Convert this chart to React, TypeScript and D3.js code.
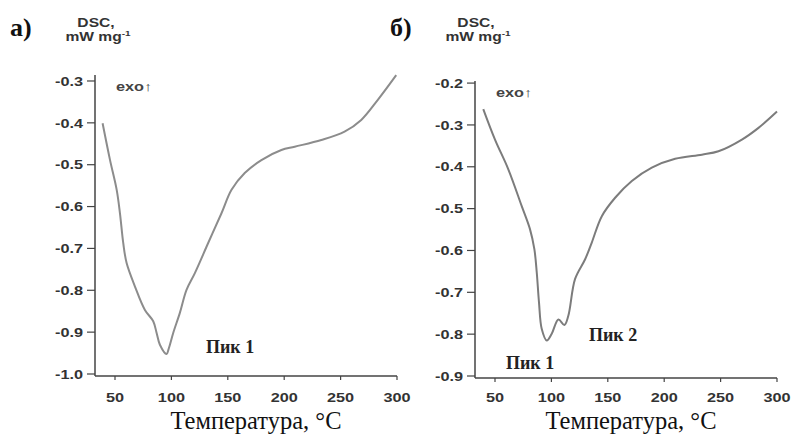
import { useEffect, useRef } from 'react'
import * as d3 from 'd3'

// panel a)
const tempA = [39, 45.6, 51.5, 54.4, 57.3, 60.3, 67.7, 76.5, 83.9, 86.9, 89.8, 95.7, 97.8, 101.6, 107.5, 113.4, 120.8, 132.6, 144.4, 153.3, 165, 179.8, 197.5, 209.3, 232.9, 253.5, 268.3, 283, 299.3]
const dscA = [-0.401, -0.489, -0.56, -0.616, -0.687, -0.735, -0.791, -0.847, -0.874, -0.902, -0.93, -0.952, -0.938, -0.902, -0.854, -0.799, -0.759, -0.687, -0.616, -0.56, -0.52, -0.489, -0.465, -0.457, -0.441, -0.421, -0.393, -0.345, -0.286]
const yTicksA = [-1.0, -0.9, -0.8, -0.7, -0.6, -0.5, -0.4, -0.3]

// panel б)
const tempB = [39.6, 50, 61.8, 73.7, 81, 84.9, 87, 89, 91.4, 95.9, 100.3, 106.2, 111.5, 115, 121, 129.9, 135.8, 144.7, 156.5, 171.3, 189, 209.7, 233.4, 248.1, 268.9, 283.6, 300]
const dscB = [-0.262, -0.335, -0.406, -0.494, -0.549, -0.597, -0.652, -0.724, -0.787, -0.815, -0.799, -0.765, -0.778, -0.756, -0.668, -0.621, -0.581, -0.518, -0.474, -0.434, -0.402, -0.381, -0.371, -0.363, -0.335, -0.307, -0.268]
const yTicksB = [-0.9, -0.8, -0.7, -0.6, -0.5, -0.4, -0.3, -0.2]

const xTicks = [50, 100, 150, 200, 250, 300]

const panels = [
  { letter: 'а)', temps: tempA, dsc: dscA, yTicks: yTicksA, left: 95, top: 75, bottom: 376, right: 397, yMin: -1.0, yMax: -0.2857, color: '#8c8c8c',
    titleX: 256, labels: [{ text: 'Пик 1', x: 206, y: 353 }] },
  { letter: 'б)', temps: tempB, dsc: dscB, yTicks: yTicksB, left: 475, top: 81, bottom: 378, right: 777, yMin: -0.9, yMax: -0.195, color: '#7c7c7c',
    titleX: 631, labels: [{ text: 'Пик 2', x: 589, y: 341 }, { text: 'Пик 1', x: 506, y: 369 }] },
]

const SX = 1.25 // the sans labels in the source are drawn a bit wide

export default function App() {
  const svgRef = useRef<SVGSVGElement>(null)

  useEffect(() => {
    const svg = d3.select(svgRef.current)
    svg.selectAll('*').remove()

    const sans = "'Liberation Sans', Arial, sans-serif"
    const serif = "'Liberation Serif', 'Times New Roman', serif"
    const wide = (px: number, py: number) => `translate(${px},${py}) scale(${SX},1)`

    panels.forEach((p) => {
      // x=50 sits 20px right of the y axis, 300 at right end
      const x = d3.scaleLinear().domain([50, 300]).range([p.left + 20, p.right])
      const y = d3.scaleLinear().domain([p.yMin, p.yMax]).range([p.bottom - 2, p.top])
      const g = svg.append('g')

      // y axis
      g.append('line').attr('x1', p.left).attr('x2', p.left).attr('y1', p.top).attr('y2', p.bottom)
        .attr('stroke', '#444').attr('stroke-width', 1.5)
      g.selectAll('.yt').data(p.yTicks).join('line')
        .attr('x1', p.left - 8).attr('x2', p.left).attr('y1', (d) => y(d)).attr('y2', (d) => y(d))
        .attr('stroke', '#444').attr('stroke-width', 1.2)
      g.selectAll('.yl').data(p.yTicks).join('text')
        .attr('transform', (d) => wide(p.left - 12, y(d))).attr('dy', '0.36em')
        .attr('text-anchor', 'end').attr('font-family', sans).attr('font-weight', 'bold')
        .attr('font-size', 13).attr('fill', '#333').text((d) => d.toFixed(1))

      // x axis
      g.append('line').attr('x1', p.left).attr('x2', p.right).attr('y1', p.bottom).attr('y2', p.bottom)
        .attr('stroke', '#444').attr('stroke-width', 1.5)
      g.selectAll('.xt').data(xTicks).join('line')
        .attr('x1', (d) => x(d)).attr('x2', (d) => x(d)).attr('y1', p.bottom).attr('y2', p.bottom + 4)
        .attr('stroke', '#444').attr('stroke-width', 1.2)
      g.selectAll('.xl').data(xTicks).join('text')
        .attr('transform', (d) => wide(x(d), 402))
        .attr('text-anchor', 'middle').attr('font-family', sans).attr('font-weight', 'bold')
        .attr('font-size', 13).attr('fill', '#333').text((d) => d)

      g.append('text').attr('x', p.titleX).attr('y', 429)
        .attr('text-anchor', 'middle').attr('font-family', serif).attr('font-size', 24.5)
        .attr('fill', '#111').text('Температура, °C')

      // curve
      const pts = p.temps.map((t, i) => [t, p.dsc[i]] as [number, number])
      const line = d3.line<[number, number]>().x((d) => x(d[0])).y((d) => y(d[1])).curve(d3.curveCatmullRom.alpha(0.5))
      g.append('path').attr('d', line(pts)).attr('fill', 'none')
        .attr('stroke', p.color).attr('stroke-width', 2)

      // headers
      g.append('text').attr('x', p.left - 85).attr('y', 36).attr('font-family', serif)
        .attr('font-weight', 'bold').attr('font-size', 26).attr('fill', '#111').text(p.letter)
      g.append('text').attr('transform', wide(p.left + 1, 27)).attr('text-anchor', 'middle').attr('font-family', sans)
        .attr('font-weight', 'bold').attr('font-size', 12.5).attr('fill', '#333').text('DSC,')
      const unit = g.append('text').attr('transform', wide(p.left + 3, 41)).attr('text-anchor', 'middle').attr('font-family', sans)
        .attr('font-weight', 'bold').attr('font-size', 12.5).attr('fill', '#333')
      unit.append('tspan').text('mW mg')
      unit.append('tspan').attr('font-size', 8).attr('dy', -5).text('-1')

      g.append('text').attr('transform', wide(p.left + 21, p.top + 16)).attr('font-family', sans)
        .attr('font-weight', 'bold').attr('font-size', 13).attr('fill', '#444').text('exo↑')

      g.selectAll('.pk').data(p.labels).join('text')
        .attr('x', (d) => d.x).attr('y', (d) => d.y).attr('font-family', serif)
        .attr('font-weight', 'bold').attr('font-size', 18).attr('fill', '#222').text((d) => d.text)
    })
  }, [])

  return <svg ref={svgRef} width={792} height={434} style={{ position: 'absolute', left: 0, top: 0, background: '#fff' }} />
}
